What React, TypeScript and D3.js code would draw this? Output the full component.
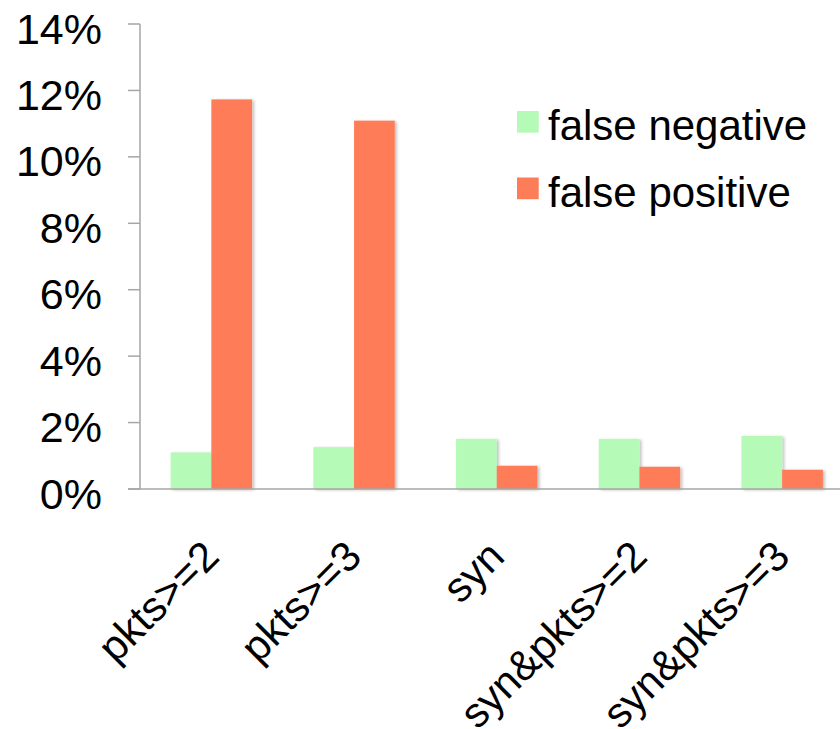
import React from "react";
import * as d3 from "d3";

const categories = ["pkts>=2", "pkts>=3", "syn", "syn&pkts>=2", "syn&pkts>=3"];
const seriesNames = ["false negative", "false positive"];
const falseNegative = [1.1, 1.26, 1.51, 1.51, 1.6];
const falsePositive = [11.73, 11.09, 0.7, 0.67, 0.58];
const yTicks = [0, 2, 4, 6, 8, 10, 12, 14];
const colors = ["#b5fab7", "#fe7d59"];

const W = 840;
const H = 729;
const FONT = "'Liberation Sans', Arial, sans-serif";

export default function App() {
  const x0 = 140;
  const y0 = 489;
  const yTop = 24;
  const x = d3.scaleBand<string>().domain(categories).range([x0, x0 + 5 * 142.7]).padding(0);
  const barW = 40.7;
  const x1 = d3.scaleBand<string>().domain(seriesNames).range([-barW, barW]).padding(0);
  const y = d3.scaleLinear().domain([0, 14]).range([y0, yTop]);
  const series = [falseNegative, falsePositive];

  return (
    <svg
      width={W}
      height={H}
      style={{ position: "absolute", left: 0, top: 0, background: "#fff" }}
      fontFamily={FONT}
    >
      <defs>
        <filter id="sh" x="-20%" y="-20%" width="150%" height="150%">
          <feDropShadow dx="2" dy="1" stdDeviation="1.5" floodColor="#000" floodOpacity="0.25" />
        </filter>
      </defs>
      <rect x={0} y={0} width={W} height={H} fill="#fff" />
      {/* bars */}
      {categories.map((c, i) => {
        const cx = (x(c) as number) + x.bandwidth() / 2;
        return (
          <g key={c}>
            {seriesNames.map((s, j) => (
              <rect
                key={s}
                x={cx + (x1(s) as number)}
                y={y(series[j][i])}
                width={x1.bandwidth()}
                height={y(0) - y(series[j][i])}
                fill={colors[j]}
                filter="url(#sh)"
              />
            ))}
          </g>
        );
      })}
      {/* y axis */}
      <line x1={x0} x2={x0} y1={y(14)} y2={y(0)} stroke="#a6a6a6" strokeWidth={1.5} />
      {yTicks.map((t) => (
        <g key={t}>
          <line x1={x0 - 12} x2={x0} y1={y(t)} y2={y(t)} stroke="#a6a6a6" strokeWidth={1.5} />
          <text x={102} y={y(t) + 19.5} textAnchor="end" fontSize={43} fill="#000">
            {t + "%"}
          </text>
        </g>
      ))}
      {/* x axis */}
      <line x1={x0 - 12} x2={W} y1={y0} y2={y0} stroke="#a6a6a6" strokeWidth={1.5} />
      {categories.map((c) => {
        const cx = (x(c) as number) + x.bandwidth() / 2;
        return (
          <text
            key={c}
            transform={`translate(${cx},${549}) rotate(-45)`}
            textAnchor="end"
            dy="0.33em"
            fontSize={42}
            fill="#000"
          >
            {c}
          </text>
        );
      })}
      {/* legend */}
      {seriesNames.map((s, j) => (
        <g key={s} transform={`translate(517,${111 + j * 66.5})`}>
          <rect x={0} y={0} width={21.7} height={21.7} fill={colors[j]} />
          <text x={31} y={29} fontSize={42} fill="#000">
            {s}
          </text>
        </g>
      ))}
    </svg>
  );
}
